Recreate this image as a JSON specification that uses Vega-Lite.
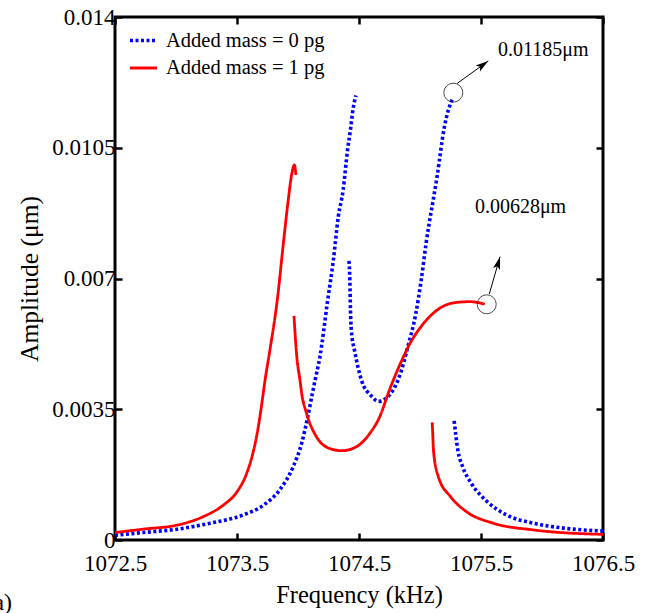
{
  "$schema": "https://vega.github.io/schema/vega-lite/v6.json",
  "autosize": {"type": "none"},
  "padding": {"left": 115, "top": 17, "right": 46, "bottom": 73},
  "width": 488,
  "height": 523,
  "background": "white",
  "config": {
    "view": {"stroke": "black", "strokeWidth": 3},
    "font": "Liberation Serif",
    "axis": {
      "grid": false,
      "domain": false,
      "labelFlush": false,
      "labelOverlap": false,
      "tickColor": "black",
      "tickWidth": 2.5,
      "tickSize": -7,
      "labelFont": "Liberation Serif",
      "labelFontSize": 23,
      "labelColor": "black",
      "titleFont": "Liberation Serif",
      "titleFontSize": 24.5,
      "titleFontWeight": "normal",
      "titleColor": "black"
    }
  },
  "datasets": {
    "curves": [
      {"s": "Added mass = 0 pg", "b": "b1", "i": 1, "f": 1072.5, "a": 0.00013},
      {"s": "Added mass = 0 pg", "b": "b1", "i": 2, "f": 1072.73, "a": 0.0002},
      {"s": "Added mass = 0 pg", "b": "b1", "i": 3, "f": 1073.01, "a": 0.00029},
      {"s": "Added mass = 0 pg", "b": "b1", "i": 4, "f": 1073.28, "a": 0.00045},
      {"s": "Added mass = 0 pg", "b": "b1", "i": 5, "f": 1073.55, "a": 0.00067},
      {"s": "Added mass = 0 pg", "b": "b1", "i": 6, "f": 1073.72, "a": 0.00094},
      {"s": "Added mass = 0 pg", "b": "b1", "i": 7, "f": 1073.85, "a": 0.00134},
      {"s": "Added mass = 0 pg", "b": "b1", "i": 8, "f": 1073.96, "a": 0.00196},
      {"s": "Added mass = 0 pg", "b": "b1", "i": 9, "f": 1074.03, "a": 0.00259},
      {"s": "Added mass = 0 pg", "b": "b1", "i": 10, "f": 1074.08, "a": 0.0033},
      {"s": "Added mass = 0 pg", "b": "b1", "i": 11, "f": 1074.11, "a": 0.00379},
      {"s": "Added mass = 0 pg", "b": "b1", "i": 12, "f": 1074.14, "a": 0.00428},
      {"s": "Added mass = 0 pg", "b": "b1", "i": 13, "f": 1074.18, "a": 0.00491},
      {"s": "Added mass = 0 pg", "b": "b1", "i": 14, "f": 1074.24, "a": 0.00634},
      {"s": "Added mass = 0 pg", "b": "b1", "i": 15, "f": 1074.29, "a": 0.0075},
      {"s": "Added mass = 0 pg", "b": "b1", "i": 16, "f": 1074.33, "a": 0.00865},
      {"s": "Added mass = 0 pg", "b": "b1", "i": 17, "f": 1074.37, "a": 0.00937},
      {"s": "Added mass = 0 pg", "b": "b1", "i": 18, "f": 1074.406, "a": 0.01044},
      {"s": "Added mass = 0 pg", "b": "b1", "i": 19, "f": 1074.43, "a": 0.01098},
      {"s": "Added mass = 0 pg", "b": "b1", "i": 20, "f": 1074.45, "a": 0.01151},
      {"s": "Added mass = 0 pg", "b": "b1", "i": 21, "f": 1074.475, "a": 0.0119},
      {"s": "Added mass = 0 pg", "b": "b2", "i": 1, "f": 1074.418, "a": 0.00747},
      {"s": "Added mass = 0 pg", "b": "b2", "i": 2, "f": 1074.425, "a": 0.00696},
      {"s": "Added mass = 0 pg", "b": "b2", "i": 3, "f": 1074.43, "a": 0.00616},
      {"s": "Added mass = 0 pg", "b": "b2", "i": 4, "f": 1074.437, "a": 0.00562},
      {"s": "Added mass = 0 pg", "b": "b2", "i": 5, "f": 1074.465, "a": 0.00505},
      {"s": "Added mass = 0 pg", "b": "b2", "i": 6, "f": 1074.52, "a": 0.00428},
      {"s": "Added mass = 0 pg", "b": "b2", "i": 7, "f": 1074.6, "a": 0.00386},
      {"s": "Added mass = 0 pg", "b": "b2", "i": 8, "f": 1074.66, "a": 0.00371},
      {"s": "Added mass = 0 pg", "b": "b2", "i": 9, "f": 1074.75, "a": 0.00388},
      {"s": "Added mass = 0 pg", "b": "b2", "i": 10, "f": 1074.84, "a": 0.00446},
      {"s": "Added mass = 0 pg", "b": "b2", "i": 11, "f": 1074.9, "a": 0.00517},
      {"s": "Added mass = 0 pg", "b": "b2", "i": 12, "f": 1074.965, "a": 0.00605},
      {"s": "Added mass = 0 pg", "b": "b2", "i": 13, "f": 1075.01, "a": 0.00696},
      {"s": "Added mass = 0 pg", "b": "b2", "i": 14, "f": 1075.05, "a": 0.00794},
      {"s": "Added mass = 0 pg", "b": "b2", "i": 15, "f": 1075.14, "a": 0.00973},
      {"s": "Added mass = 0 pg", "b": "b2", "i": 16, "f": 1075.2, "a": 0.01106},
      {"s": "Added mass = 0 pg", "b": "b2", "i": 17, "f": 1075.27, "a": 0.01185},
      {"s": "Added mass = 0 pg", "b": "b3", "i": 1, "f": 1075.28, "a": 0.00319},
      {"s": "Added mass = 0 pg", "b": "b3", "i": 2, "f": 1075.31, "a": 0.00241},
      {"s": "Added mass = 0 pg", "b": "b3", "i": 3, "f": 1075.35, "a": 0.00196},
      {"s": "Added mass = 0 pg", "b": "b3", "i": 4, "f": 1075.42, "a": 0.00152},
      {"s": "Added mass = 0 pg", "b": "b3", "i": 5, "f": 1075.55, "a": 0.00103},
      {"s": "Added mass = 0 pg", "b": "b3", "i": 6, "f": 1075.71, "a": 0.00067},
      {"s": "Added mass = 0 pg", "b": "b3", "i": 7, "f": 1075.93, "a": 0.00045},
      {"s": "Added mass = 0 pg", "b": "b3", "i": 8, "f": 1076.2, "a": 0.00031},
      {"s": "Added mass = 0 pg", "b": "b3", "i": 9, "f": 1076.5, "a": 0.00024},
      {"s": "Added mass = 1 pg", "b": "r1", "i": 1, "f": 1072.5, "a": 0.0002},
      {"s": "Added mass = 1 pg", "b": "r1", "i": 2, "f": 1072.73, "a": 0.00029},
      {"s": "Added mass = 1 pg", "b": "r1", "i": 3, "f": 1073.01, "a": 0.0004},
      {"s": "Added mass = 1 pg", "b": "r1", "i": 4, "f": 1073.22, "a": 0.00062},
      {"s": "Added mass = 1 pg", "b": "r1", "i": 5, "f": 1073.39, "a": 0.00094},
      {"s": "Added mass = 1 pg", "b": "r1", "i": 6, "f": 1073.5, "a": 0.00129},
      {"s": "Added mass = 1 pg", "b": "r1", "i": 7, "f": 1073.58, "a": 0.00179},
      {"s": "Added mass = 1 pg", "b": "r1", "i": 8, "f": 1073.63, "a": 0.00232},
      {"s": "Added mass = 1 pg", "b": "r1", "i": 9, "f": 1073.67, "a": 0.00294},
      {"s": "Added mass = 1 pg", "b": "r1", "i": 10, "f": 1073.7, "a": 0.00357},
      {"s": "Added mass = 1 pg", "b": "r1", "i": 11, "f": 1073.73, "a": 0.00428},
      {"s": "Added mass = 1 pg", "b": "r1", "i": 12, "f": 1073.77, "a": 0.00509},
      {"s": "Added mass = 1 pg", "b": "r1", "i": 13, "f": 1073.83, "a": 0.00642},
      {"s": "Added mass = 1 pg", "b": "r1", "i": 14, "f": 1073.88, "a": 0.00794},
      {"s": "Added mass = 1 pg", "b": "r1", "i": 15, "f": 1073.92, "a": 0.0091},
      {"s": "Added mass = 1 pg", "b": "r1", "i": 16, "f": 1073.95, "a": 0.00982},
      {"s": "Added mass = 1 pg", "b": "r1", "i": 17, "f": 1073.97, "a": 0.01004},
      {"s": "Added mass = 1 pg", "b": "r1", "i": 18, "f": 1073.983, "a": 0.00977},
      {"s": "Added mass = 1 pg", "b": "r2", "i": 1, "f": 1073.967, "a": 0.006},
      {"s": "Added mass = 1 pg", "b": "r2", "i": 2, "f": 1073.99, "a": 0.00491},
      {"s": "Added mass = 1 pg", "b": "r2", "i": 3, "f": 1074.016, "a": 0.00428},
      {"s": "Added mass = 1 pg", "b": "r2", "i": 4, "f": 1074.03, "a": 0.00393},
      {"s": "Added mass = 1 pg", "b": "r2", "i": 5, "f": 1074.07, "a": 0.00339},
      {"s": "Added mass = 1 pg", "b": "r2", "i": 6, "f": 1074.15, "a": 0.00277},
      {"s": "Added mass = 1 pg", "b": "r2", "i": 7, "f": 1074.26, "a": 0.00245},
      {"s": "Added mass = 1 pg", "b": "r2", "i": 8, "f": 1074.36, "a": 0.00239},
      {"s": "Added mass = 1 pg", "b": "r2", "i": 9, "f": 1074.48, "a": 0.0025},
      {"s": "Added mass = 1 pg", "b": "r2", "i": 10, "f": 1074.59, "a": 0.00286},
      {"s": "Added mass = 1 pg", "b": "r2", "i": 11, "f": 1074.67, "a": 0.0033},
      {"s": "Added mass = 1 pg", "b": "r2", "i": 12, "f": 1074.75, "a": 0.00402},
      {"s": "Added mass = 1 pg", "b": "r2", "i": 13, "f": 1074.84, "a": 0.00473},
      {"s": "Added mass = 1 pg", "b": "r2", "i": 14, "f": 1074.92, "a": 0.00527},
      {"s": "Added mass = 1 pg", "b": "r2", "i": 15, "f": 1075.03, "a": 0.0058},
      {"s": "Added mass = 1 pg", "b": "r2", "i": 16, "f": 1075.16, "a": 0.0062},
      {"s": "Added mass = 1 pg", "b": "r2", "i": 17, "f": 1075.3, "a": 0.00636},
      {"s": "Added mass = 1 pg", "b": "r2", "i": 18, "f": 1075.41, "a": 0.00638},
      {"s": "Added mass = 1 pg", "b": "r2", "i": 19, "f": 1075.53, "a": 0.00631},
      {"s": "Added mass = 1 pg", "b": "r3", "i": 1, "f": 1075.1, "a": 0.00315},
      {"s": "Added mass = 1 pg", "b": "r3", "i": 2, "f": 1075.105, "a": 0.0028},
      {"s": "Added mass = 1 pg", "b": "r3", "i": 3, "f": 1075.11, "a": 0.00241},
      {"s": "Added mass = 1 pg", "b": "r3", "i": 4, "f": 1075.15, "a": 0.0017},
      {"s": "Added mass = 1 pg", "b": "r3", "i": 5, "f": 1075.25, "a": 0.00116},
      {"s": "Added mass = 1 pg", "b": "r3", "i": 6, "f": 1075.38, "a": 0.00076},
      {"s": "Added mass = 1 pg", "b": "r3", "i": 7, "f": 1075.6, "a": 0.00045},
      {"s": "Added mass = 1 pg", "b": "r3", "i": 8, "f": 1075.93, "a": 0.00027},
      {"s": "Added mass = 1 pg", "b": "r3", "i": 9, "f": 1076.5, "a": 0.00015}
    ]
  },
  "layer": [
    {
      "data": {"name": "curves"},
      "mark": {"type": "line", "strokeCap": "butt", "interpolate": "monotone", "clip": true},
      "encoding": {
        "x": {
          "field": "f", "type": "quantitative",
          "scale": {"domain": [1072.5, 1076.5], "nice": false, "zero": false},
          "axis": {"orient": "bottom", "title": "Frequency (kHz)", "values": [1072.5, 1073.5, 1074.5, 1075.5, 1076.5], "format": ".1f", "labelPadding": 19, "titlePadding": 8}
        },
        "y": {
          "field": "a", "type": "quantitative",
          "scale": {"domain": [0, 0.014], "nice": false, "zero": false},
          "axis": {"orient": "left", "title": "Amplitude (μm)", "titleFontSize": 25.5, "values": [0, 0.0035, 0.007, 0.0105, 0.014], "labelExpr": "toString(datum.value)", "labelPadding": 7, "titlePadding": 9}
        },
        "color": {
          "field": "s", "type": "nominal",
          "scale": {"domain": ["Added mass = 0 pg", "Added mass = 1 pg"], "range": ["#0000ff", "#ff0000"]},
          "legend": {"title": null, "orient": "none", "legendX": 13, "legendY": 8, "padding": 0, "symbolType": "stroke", "symbolSize": 729, "symbolStrokeWidth": 3.2, "labelFont": "Liberation Serif", "labelFontSize": 20.5, "labelColor": "black", "labelOffset": 7, "rowPadding": 2, "labelLimit": 400}
        },
        "strokeDash": {
          "field": "s", "type": "nominal",
          "scale": {"domain": ["Added mass = 0 pg", "Added mass = 1 pg"], "range": [[3, 2.5], [1, 0]]},
          "legend": {"title": null, "orient": "none", "legendX": 13, "legendY": 8, "padding": 0, "symbolType": "stroke", "symbolSize": 729, "symbolStrokeWidth": 3.2, "labelFont": "Liberation Serif", "labelFontSize": 20.5, "labelColor": "black", "labelOffset": 7, "rowPadding": 2, "labelLimit": 400}
        },
        "strokeWidth": {
          "field": "s", "type": "nominal",
          "scale": {"domain": ["Added mass = 0 pg", "Added mass = 1 pg"], "range": [3.6, 2.8]},
          "legend": null
        },
        "detail": {"field": "b", "type": "nominal"},
        "order": {"field": "i", "type": "quantitative"}
      }
    },
    {
      "data": {"values": [
        {"f": 1075.306, "a": 0.012226, "f2": 1075.56, "a2": 0.012823},
        {"f": 1075.568, "a": 0.006585, "f2": 1075.656, "a2": 0.007584}
      ]},
      "mark": {"type": "rule", "color": "black", "strokeWidth": 1},
      "encoding": {
        "x": {"field": "f", "type": "quantitative", "axis": {"orient": "top", "labels": false, "title": null, "values": [1072.5, 1073.5, 1074.5, 1075.5, 1076.5]}},
        "y": {"field": "a", "type": "quantitative", "axis": {"orient": "right", "labels": false, "title": null, "values": [0, 0.0035, 0.007, 0.0105, 0.014]}},
        "x2": {"field": "f2"},
        "y2": {"field": "a2"}
      }
    },
    {
      "data": {"values": [
        {"f": 1075.273, "a": 0.011975},
        {"f": 1075.547, "a": 0.00631}
      ]},
      "mark": {"type": "point", "shape": "circle", "size": 360, "filled": false, "stroke": "black", "strokeWidth": 1},
      "encoding": {
        "x": {"field": "f", "type": "quantitative", "axis": null},
        "y": {"field": "a", "type": "quantitative", "axis": null}
      }
    },
    {
      "data": {"values": [{"f": 1075.506, "a": 0.012697}]},
      "mark": {"type": "point", "shape": "M0,-1L0.45,0.6L0,0.25L-0.45,0.6Z", "size": 256, "filled": true, "color": "black", "opacity": 1, "angle": 54},
      "encoding": {
        "x": {"field": "f", "type": "quantitative", "axis": null},
        "y": {"field": "a", "type": "quantitative", "axis": null}
      }
    },
    {
      "data": {"values": [{"f": 1075.638, "a": 0.007378}]},
      "mark": {"type": "point", "shape": "M0,-1L0.45,0.6L0,0.25L-0.45,0.6Z", "size": 256, "filled": true, "color": "black", "opacity": 1, "angle": 16},
      "encoding": {
        "x": {"field": "f", "type": "quantitative", "axis": null},
        "y": {"field": "a", "type": "quantitative", "axis": null}
      }
    },
    {
      "data": {"values": [
        {"f": 1075.64, "a": 0.01312, "t": "0.01185μm"},
        {"f": 1075.45, "a": 0.008914, "t": "0.00628μm"}
      ]},
      "mark": {"type": "text", "align": "left", "baseline": "middle", "font": "Liberation Serif", "fontSize": 20, "color": "black"},
      "encoding": {
        "x": {"field": "f", "type": "quantitative", "axis": null},
        "y": {"field": "a", "type": "quantitative", "axis": null},
        "text": {"field": "t"}
      }
    },
    {
      "data": {"values": [{"f": 1071.656, "a": -0.00187, "t": "(a)"}]},
      "mark": {"type": "text", "align": "right", "baseline": "alphabetic", "font": "Liberation Serif", "fontSize": 24, "color": "black"},
      "encoding": {
        "x": {"field": "f", "type": "quantitative", "axis": null},
        "y": {"field": "a", "type": "quantitative", "axis": null},
        "text": {"field": "t"}
      }
    }
  ],
  "resolve": {"axis": {"x": "independent", "y": "independent"}}
}
